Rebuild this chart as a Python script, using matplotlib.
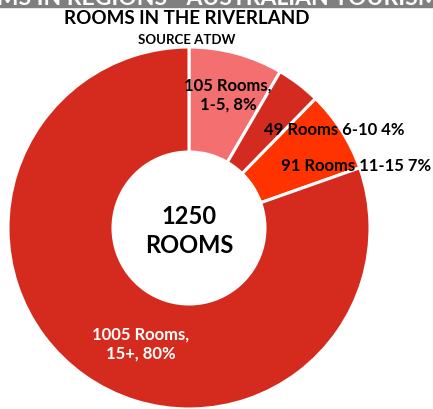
import matplotlib.pyplot as plt
from matplotlib.patches import Rectangle

# data
rooms = [105, 49, 91, 1005]
labels = ["105 Rooms,\n1-5, 8%", "49 Rooms 6-10 4%", "91 Rooms 11-15 7%", "1005 Rooms,\n15+, 80%"]
colors = ["#F47070", "#D42B20", "#FF3300", "#D52B1E"]
total_label = "1250\nROOMS"

plt.rcParams['font.family'] = ['Lato', 'DejaVu Sans']

fig = plt.figure(figsize=(4.33, 4.10), dpi=100)
ax = fig.add_axes([0, 0, 1, 1])

# pixel units, y up
cx, cy, R = 189, 410 - 229, 181
wedges, _ = ax.pie(rooms, colors=colors, startangle=90, counterclock=False,
                   center=(cx, cy), radius=R, frame=True,
                   wedgeprops=dict(width=R - 76, edgecolor='white', linewidth=2.2))
ax.set_xlim(0, 433)
ax.set_ylim(0, 410)
ax.axis('off')

# cut-off banner at the top
ax.add_patch(Rectangle((0, 402), 433, 10, color='#7F7F7F'))
ax.text(192, 405, "ROOMS IN REGIONS - AUSTRALIAN TOURISM", color='white',
        fontsize=16.5, fontweight='bold', ha='center', va='baseline')

ax.text(187, 392, "ROOMS IN THE RIVERLAND", fontsize=13.5, fontweight='bold',
        ha='center', va='center')
ax.text(187, 370, "SOURCE ATDW", fontsize=9.5, fontweight='bold',
        ha='center', va='center')

# slice labels
ax.text(228, 315, labels[0], fontsize=12, fontweight='bold', ha='center',
        va='center', linespacing=1.3)
ax.text(334, 280, labels[1], fontsize=12, fontweight='bold', ha='center', va='center')
ax.text(356, 244, labels[2], fontsize=12, fontweight='bold', ha='center', va='center')
ax.text(141, 66, labels[3], fontsize=12, fontweight='bold', ha='center',
        va='center', color='white', linespacing=1.3)

ax.text(cx, 179, total_label, fontsize=17, fontweight='bold', ha='center',
        va='center', linespacing=1.3)

fig.savefig("out.png", dpi=100)
